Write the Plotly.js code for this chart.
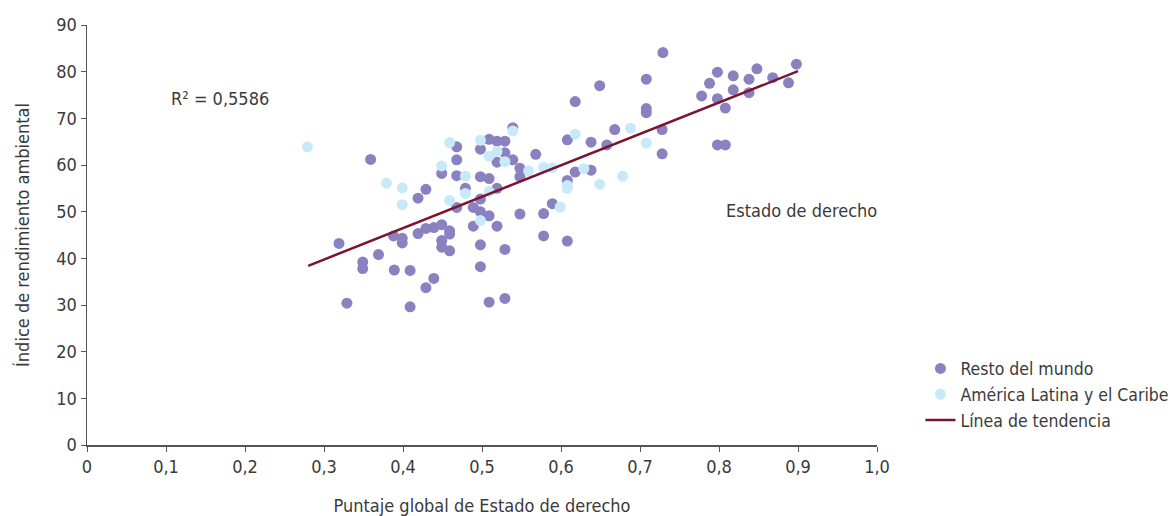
<!DOCTYPE html>
<html>
<head>
<meta charset="utf-8">
<script src="https://cdn.plot.ly/plotly-3.0.1.min.js"></script>
<style>html,body{margin:0;padding:0;background:#fff;}#chart{width:1172px;height:516px;}</style>
</head>
<body>
<div id="chart"></div>
<script>
// Resto del mundo
const restoX = [0.359,0.468,0.468,0.449,0.468,0.429,0.419,0.468,0.319,0.388,0.399,0.399,0.419,0.429,0.439,0.449,0.459,0.459,0.449,0.449,0.459,0.369,0.349,0.349,0.389,0.409,0.439,0.429,0.329,0.409,
0.618,0.539,0.509,0.519,0.529,0.498,0.529,0.568,0.608,0.638,0.658,0.519,0.539,0.548,0.548,0.498,0.509,0.618,0.638,0.479,0.519,0.489,0.498,0.498,0.509,0.489,0.519,0.548,0.578,0.589,0.578,0.608,0.498,0.529,0.498,0.509,0.529,0.608,
0.729,0.649,0.708,0.708,0.708,0.668,0.728,0.728,0.798,0.818,0.848,0.898,0.788,0.838,0.868,0.888,0.778,0.798,0.818,0.838,0.808,0.798,0.808];
const restoY = [61.2,63.9,61.1,58.2,57.7,54.8,52.9,50.9,43.2,44.8,44.3,43.3,45.3,46.4,46.6,47.2,45.9,45.2,43.8,42.4,41.6,40.8,39.2,37.8,37.5,37.4,35.7,33.7,30.4,29.6,
73.6,68.0,65.5,65.1,65.1,63.4,62.6,62.3,65.4,64.9,64.3,60.6,61.1,59.3,57.5,57.5,57.1,58.5,58.9,55.0,55.0,50.9,52.7,50.0,49.1,46.9,46.9,49.5,49.6,51.7,44.8,43.7,42.9,41.9,38.2,30.6,31.4,56.7,
84.1,77.0,78.4,72.1,71.2,67.6,67.6,62.4,79.9,79.1,80.6,81.6,77.5,78.4,78.7,77.6,74.8,74.2,76.1,75.5,72.2,64.3,64.3];

// América Latina y el Caribe
const latamX = [0.279,0.459,0.449,0.379,0.399,0.399,0.459,0.539,0.498,0.509,0.519,0.529,0.618,0.479,0.479,0.509,0.559,0.578,0.589,0.629,0.649,0.599,0.498,0.608,0.608,0.688,0.708,0.678];
const latamY = [63.9,64.8,59.8,56.1,55.1,51.5,52.4,67.3,65.3,61.9,62.9,60.7,66.6,57.6,53.9,54.3,58.7,59.5,59.4,59.2,55.9,51.0,48.1,55.6,55.0,67.9,64.7,57.6];

// Línea de tendencia
const trendX = [0.28, 0.9];
const trendY = [38.4, 80.1];

const xTickVals = [0,0.1,0.2,0.3,0.4,0.5,0.6,0.7,0.8,0.9,1.0];
const xTickText = ["0","0,1","0,2","0,3","0,4","0,5","0,6","0,7","0,8","0,9","1,0"];
const yTickVals = [0,10,20,30,40,50,60,70,80,90];

const FONT = "DejaVu Sans Condensed, Liberation Sans Narrow, Arial Narrow, sans-serif";
const TXT = "#3a3a3a";

const traces = [
  {x: restoX, y: restoY, type: "scatter", mode: "markers", name: "Resto del mundo",
   marker: {color: "#8A82C0", size: 11, line: {width: 0}}},
  {x: latamX, y: latamY, type: "scatter", mode: "markers", name: "América Latina y el Caribe",
   marker: {color: "#C8E9F8", size: 11, line: {width: 0}}},
  {x: trendX, y: trendY, type: "scatter", mode: "lines", name: "Línea de tendencia",
   line: {color: "#7A1430", width: 2.5}}
];

const layout = {
  width: 1172, height: 516,
  margin: {l: 87, r: 295, t: 25, b: 71, autoexpand: false},
  paper_bgcolor: "#fff", plot_bgcolor: "#fff",
  font: {family: FONT, size: 17, color: TXT},
  showlegend: true,
  legend: {x: 1.055, y: 0.225, xanchor: "left", yanchor: "top",
           font: {family: FONT, size: 17.5, color: TXT}, tracegroupgap: 0, itemwidth: 30},
  xaxis: {range: [0, 1.0], tickvals: xTickVals, ticktext: xTickText,
          showgrid: false, zeroline: false, showline: true, linecolor: "#555", linewidth: 1.5,
          ticks: "outside", ticklen: 5, tickcolor: "#555",
          tickfont: {family: FONT, size: 18, color: TXT},
          title: {text: "Puntaje global de Estado de derecho", standoff: 24,
                  font: {family: FONT, size: 18, color: TXT}}},
  yaxis: {range: [0, 90], tickvals: yTickVals,
          showgrid: false, zeroline: false, showline: true, linecolor: "#555", linewidth: 1.5,
          ticks: "outside", ticklen: 5, tickcolor: "#555",
          tickfont: {family: FONT, size: 18, color: TXT},
          title: {text: "Índice de rendimiento ambiental", standoff: 22,
                  font: {family: FONT, size: 18, color: TXT}}},
  annotations: [
    {x: 0.168, y: 74.2, xref: "x", yref: "y", text: "R² = 0,5586", showarrow: false,
     font: {family: FONT, size: 18, color: TXT}},
    {x: 0.905, y: 50.2, xref: "x", yref: "y", text: "Estado de derecho", showarrow: false,
     font: {family: FONT, size: 18, color: TXT}}
  ]
};

Plotly.newPlot("chart", traces, layout, {displayModeBar: false, staticPlot: true});
</script>
</body>
</html>
